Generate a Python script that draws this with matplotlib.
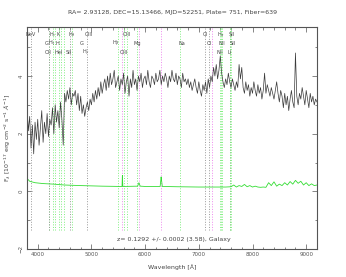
import numpy as np
import matplotlib
matplotlib.use("Agg")
from matplotlib import pyplot as plt
from matplotlib.ticker import MultipleLocator

# spectrum, sampled every 25 A from 3800 to 9200
wave_start, wave_step = 3800, 25
flux = [2.9, 2.1, 2.6, 1.5, 2.3, 1.3, 2.4, 1.8,
        2.5, 1.6, 2.2, 2.8, 1.7, 2.4, 2.0, 2.7, 1.9, 2.5,
        2.3, 2.9, 2.0, 3.0, 2.4, 2.8, 2.2, 3.1, 2.5, 1.6,
        3.4, 3.1, 3.5, 3.2, 3.6, 3.0, 3.4, 3.3,
        3.5, 3.0, 3.4, 2.8, 3.3, 2.7, 3.0, 2.6, 2.9, 3.1, 2.8, 3.2,
        3.0, 3.4, 3.1, 3.5, 3.2, 3.6, 3.3, 3.8, 3.4, 3.7, 3.9, 3.5,
        4.0, 3.6, 4.1, 3.7, 3.9, 4.2, 3.6, 3.8, 4.0, 3.5, 3.9, 3.7,
        4.1, 3.4, 3.8, 4.0, 3.3, 3.9, 3.6, 4.2, 3.7, 3.9, 3.5, 4.0,
        3.8, 4.1, 3.6, 3.9, 4.0, 3.7, 4.2, 3.8, 3.6, 4.0, 3.9, 3.7,
        4.1, 3.8, 3.9, 4.2, 3.7, 4.0, 3.8, 4.1, 3.9, 3.6, 4.0, 3.8,
        4.2, 3.9, 3.8, 4.1, 3.7, 4.0, 3.9, 3.6, 4.1, 3.8, 3.9, 3.7,
        3.9, 3.6, 3.8, 3.5, 3.7, 3.9, 3.6, 3.4, 3.8, 3.5, 3.3, 3.7,
        3.5, 3.8, 3.4, 3.9, 3.6, 4.0, 3.8, 4.3, 4.0, 4.4, 3.9, 4.2,
        4.7, 4.1, 3.8, 3.6, 3.9, 3.7, 4.1, 3.8, 3.6, 3.9, 3.7, 3.5,
        3.8, 3.6, 4.4, 3.9, 4.3, 3.6, 3.4, 3.8, 3.5, 3.7, 3.3, 3.6,
        3.4, 3.8, 3.5, 3.3, 3.7, 3.4, 3.6, 3.2, 3.5, 4.1, 3.4, 3.7,
        3.5, 3.3, 3.6, 3.4, 3.2, 3.5, 3.8, 3.4, 3.1, 3.5, 3.3, 2.9,
        3.4, 3.0, 3.3, 2.8, 3.2, 3.5, 3.1, 2.9, 4.8, 3.3, 3.0, 3.4,
        3.2, 3.6, 3.3, 3.0, 3.5, 3.2, 2.9, 3.4, 3.1, 3.3, 3.0, 3.2,
        3.1]
wave = wave_start + wave_step * np.arange(len(flux))

# error spectrum
err_wave = [3800, 3850, 3950, 4100, 4300, 4500, 4800, 5200, 5550, 5570, 5577, 5585,
            5600, 5860, 5885, 5893, 5910, 6000, 6280, 6298, 6302, 6320, 6600, 7000,
            7300, 7500, 7600, 7650, 7700, 7750, 7800, 7850, 7900, 7950, 8000, 8050,
            8100, 8150, 8200, 8250, 8300, 8350, 8400, 8450, 8500, 8550, 8600, 8650,
            8700, 8750, 8800, 8850, 8900, 8950, 9000, 9050, 9100, 9150, 9200]
err_flux = [0.45, 0.35, 0.3, 0.27, 0.25, 0.22, 0.2, 0.18, 0.17, 0.17, 0.55, 0.17,
            0.17, 0.18, 0.3, 0.25, 0.18, 0.17, 0.17, 0.5, 0.45, 0.17, 0.16, 0.15,
            0.15, 0.15, 0.16, 0.22, 0.15, 0.2, 0.17, 0.24, 0.16, 0.2, 0.15, 0.18,
            0.15, 0.14, 0.15, 0.14, 0.3, 0.2, 0.33, 0.18, 0.25, 0.2, 0.3, 0.22,
            0.34, 0.25, 0.38, 0.28, 0.35, 0.22, 0.3, 0.2, 0.26, 0.2, 0.22]

z = 0.1292
# line markers (rest frame)
line_rest = [3426, 3726, 3729, 3798, 3835, 3889, 3934, 3969, 4069, 4102, 4350,
             4861, 4959, 5007, 5175, 5894, 6300, 6363, 6548, 6563, 6583, 6707, 6716, 6731]
line_kind = ['a', 'e', 'a', 'e', 'e', 'e', 'e', 'e', 'a', 'e', 'a',
             'e', 'e', 'e', 'e', 'e', 'a', 'a', 'e', 'e', 'e', 'a', 'e', 'e']
sky_wave = [5577, 5890, 6300, 7250]

# labels (observed wavelength, row)
lab_text = ["NeV", r"H$_\epsilon$", "K", r"H$_\delta$", "OIII", "OIII", "OI", r"H$_\alpha$", "SII",
            "G", r"H$_\eta$", "H", "G", r"H$_\beta$", "Mg", "Na", "OI", "NII", "SII",
            "OII", "HeI", "SII", r"H$_\gamma$", "OIII", "NII", "Li"]
lab_wave = [3865, 4284, 4387, 4629, 4945, 5653, 7115, 7422, 7608,
            4172, 4266, 4359, 4824, 5457, 5858, 6677, 7189, 7430, 7627,
            4191, 4387, 4582, 4899, 5597, 7394, 7571]
lab_row = [0] * 9 + [1] * 10 + [2] * 7
row_y = [5.45, 5.12, 4.8]

kind_col = {'e': '#80ee80', 'a': '#999999'}

fig = plt.figure(figsize=(3.46, 2.77), dpi=100)
ax = fig.add_axes([0.078, 0.101, 0.838, 0.8015])

for lw_, k in zip(line_rest, line_kind):
    ax.vlines(lw_ * (1 + z), -1.35, 5.7, colors=kind_col[k], linestyles=':', lw=0.7)
for s in sky_wave:
    ax.vlines(s, -1.35, 5.7, colors='#ee88ee', linestyles=':', lw=0.7)

ax.plot(wave, flux, color='#3a3a3a', lw=0.5)
ax.plot(err_wave, err_flux, color='#33dd33', lw=0.6)

for t, w, r in zip(lab_text, lab_wave, lab_row):
    ax.text(w, row_y[r], t, fontsize=3.6, ha='center', va='center', color='#444444')

ax.set_xlim(3800, 9200)
ax.set_ylim(-2.0, 5.7)
ax.xaxis.set_major_locator(MultipleLocator(1000))
ax.xaxis.set_minor_locator(MultipleLocator(200))
ax.yaxis.set_major_locator(MultipleLocator(2))
ax.yaxis.set_minor_locator(MultipleLocator(1))
ax.tick_params(which='both', direction='in', top=True, right=True, labelsize=4,
               width=0.5, colors='#555555', pad=2.5)
ax.tick_params(which='major', length=3.5)
ax.tick_params(which='minor', length=1.8)
for lab in ax.get_yticklabels():
    lab.set_rotation(90)
    lab.set_va('center')
for sp in ax.spines.values():
    sp.set_linewidth(0.8)
    sp.set_color('#555555')

ax.set_xlabel(u"Wavelength [\u00c5]", fontsize=4.5, color='#444444', labelpad=5)
ax.set_ylabel(r"F$_\lambda$ [10$^{-17}$ erg cm$^{-2}$ s$^{-1}$ $\AA^{-1}$]", fontsize=4.5,
              color='#444444', labelpad=4)
ax.text(0.507, 0.03, "z= 0.1292 +/- 0.0002 (3.58), Galaxy", transform=ax.transAxes,
        fontsize=4.5, ha='center', va='bottom', color='#444444')
fig.text(0.5, 0.955, "RA= 2.93128, DEC=15.13466, MJD=52251, Plate= 751, Fiber=639",
         fontsize=4.5, ha='center', va='center', color='#444444')

fig.savefig("out.png", dpi=100)
